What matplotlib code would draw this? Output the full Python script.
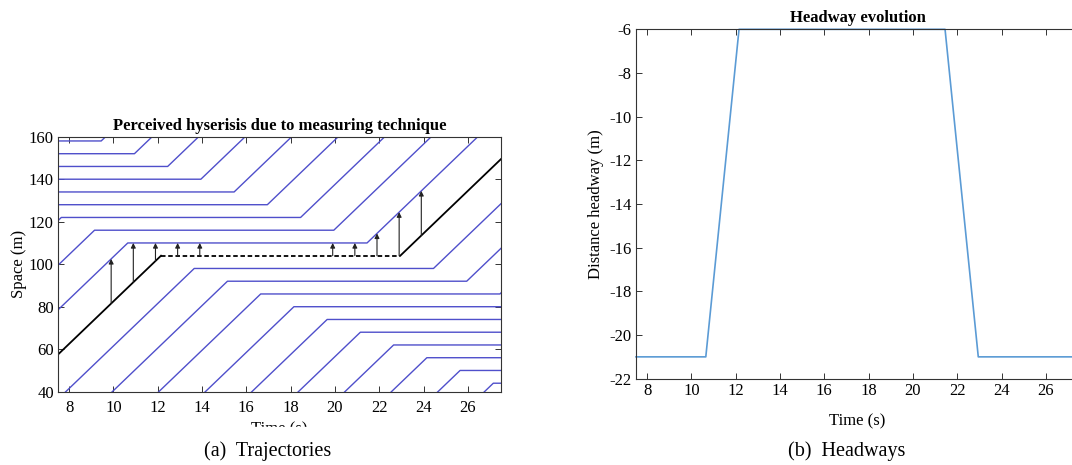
import matplotlib
matplotlib.use('Agg')
import matplotlib.pyplot as plt
import numpy as np

plt.rcParams['font.family'] = ['Liberation Serif', 'DejaVu Serif']
plt.rcParams['axes.unicode_minus'] = False

# vehicle trajectories (a): standstill level, time the stop starts, time it ends
stop_pos = [44, 50, 56, 62, 68, 74, 80, 86, 92, 98, 104, 110, 116, 122, 128, 134, 140, 146, 152, 158]
stop_start = [27.15, 25.65, 24.15, 22.65, 21.15, 19.65, 18.15, 16.65, 15.15, 13.65,
              12.15, 10.65, 9.15, 7.65, 6.15, 4.65, 3.15, 1.65, 0.15, -1.35]
stop_end = [37.95, 36.45, 34.95, 33.45, 31.95, 30.45, 28.95, 27.45, 25.95, 24.45,
            22.95, 21.45, 19.95, 18.45, 16.95, 15.45, 13.95, 12.45, 10.95, 9.45]
speed = 10.0
probe_idx = 10  # black vehicle
arrow_times = [9.9, 10.9, 11.9, 12.9, 13.9, 19.9, 20.9, 21.9, 22.9, 23.9]

# headways (b)
hw_time = [7.5, 10.65, 12.15, 21.45, 22.95, 27.5]
hw_val = [-21, -21, -6, -6, -21, -21]

blue = '#4f4fcb'


def traj(i):
    s, t1, t2 = stop_pos[i], stop_start[i], stop_end[i]
    t = [t1 - 30, t1, t2, t2 + 30]
    y = [s - speed * 30, s, s, s + speed * 30]
    return np.array(t), np.array(y)


fig = plt.figure(figsize=(10.72, 4.65), dpi=100)

ax1 = fig.add_axes([0.0541, 0.1576, 0.4133, 0.5484])
for i in range(len(stop_pos)):
    t, y = traj(i)
    if i == probe_idx:
        ax1.plot(t[:2], y[:2], color='black', lw=1.3)
        ax1.plot(t[1:3], y[1:3], color='black', lw=1.3, ls=(0, (2.5, 1.5)))
        ax1.plot(t[2:], y[2:], color='black', lw=1.3)
    else:
        ax1.plot(t, y, color=blue, lw=1.0)

tp, yp = traj(probe_idx)
tl, yl = traj(probe_idx + 1)
for ta in arrow_times:
    y0 = np.interp(ta, tp, yp)
    y1 = np.interp(ta, tl, yl)
    ax1.annotate('', xy=(ta, y1), xytext=(ta, y0),
                 arrowprops=dict(arrowstyle='-|>', color='#222222', lw=0.8,
                                 mutation_scale=7, shrinkA=0, shrinkB=0))

ax1.set_xlim(7.5, 27.5)
ax1.set_ylim(40, 160)
ax1.set_xticks(range(8, 27, 2))
ax1.set_yticks(range(40, 161, 20))
ax1.set_title('Perceived hyserisis due to measuring technique', fontsize=12,
              fontweight='bold', pad=4.5)
ax1.set_ylabel('Space (m)', fontsize=12)
ax1.set_xlabel('Time (s)', fontsize=12)
ax1.yaxis.set_label_coords(-0.07, 0.5)
ax1.xaxis.set_label_coords(0.5, -0.115)

ax2 = fig.add_axes([0.5933, 0.1856, 0.4133, 0.7514])
ax2.plot(hw_time, hw_val, color='#5b9bd5', lw=1.2, clip_on=False)
ax2.set_xlim(7.5, 27.5)
ax2.set_ylim(-22, -6)
ax2.set_xticks(range(8, 27, 2))
ax2.set_yticks(range(-22, -5, 2))
ax2.set_title('Headway evolution', fontsize=12, fontweight='bold', pad=5)
ax2.set_ylabel('Distance headway (m)', fontsize=12)
ax2.set_xlabel('Time (s)', fontsize=12)
ax2.yaxis.set_label_coords(-0.072, 0.5)
ax2.xaxis.set_label_coords(0.5, -0.098)

for ax in (ax1, ax2):
    ax.tick_params(direction='in', top=True, right=True, length=4, width=0.7,
                   labelsize=12, pad=3, color='#333333')
    for sp in ax.spines.values():
        sp.set_linewidth(0.8)
        sp.set_color('#333333')
ax1.tick_params(axis='x', pad=6)

# the first panel's x label is cut off in the source figure
fig.patches.append(plt.Rectangle((0.18, 1 - 439 / 465), 0.15, 12 / 465,
                                 transform=fig.transFigure, color='white', zorder=2.5))

fig.text(268 / 1072, 1 - 451 / 465, '(a)  Trajectories', ha='center', va='center',
         fontsize=14.5, zorder=3)
fig.text(847 / 1072, 1 - 451 / 465, '(b)  Headways', ha='center', va='center',
         fontsize=14.5, zorder=3)

fig.savefig('out.png', dpi=100)
